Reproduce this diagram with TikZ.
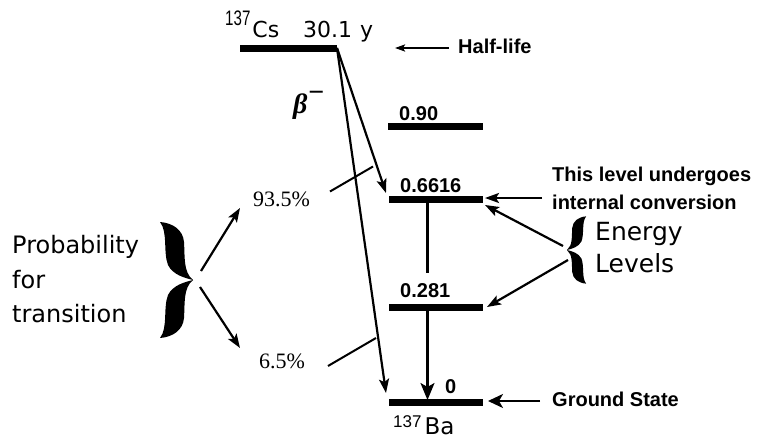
\documentclass[tikz,border=0pt]{standalone}
\usepackage{fontspec}
\usepackage{graphicx}
\setmainfont{Liberation Sans}
\newfontfamily\dvs{DejaVu Sans}
\newfontfamily\lserif{Liberation Serif}
\usetikzlibrary{arrows.meta}
\begin{document}
\begin{tikzpicture}[x=1pt,y=-1pt,
  levelbar/.style={line width=7pt},
  conn/.style={line width=2.2pt,-{Stealth[length=14pt,width=10pt,inset=3pt]}},
  smallconn/.style={line width=2pt,-{Stealth[length=10pt,width=7pt,inset=2pt]}},
  plain/.style={line width=2pt},
  lbl/.style={inner sep=0pt,anchor=base west,font=\bfseries\fontsize{20}{24}\selectfont},
  big/.style={inner sep=0pt,anchor=base west,font=\dvs\fontsize{24}{28}\selectfont},
  pct/.style={inner sep=0pt,anchor=base west,font=\lserif\fontsize{22}{24}\selectfont},
  nuc/.style={inner sep=0pt,anchor=base west,font=\dvs\fontsize{22}{24}\selectfont},
  bracefill/.style={fill=black}
]
\useasboundingbox[fill=white] (0,0) rectangle (764,439);

% ---------- level bars ----------
\coordinate (csL) at (240,48.5);  \coordinate (csR) at (337,48.5);
\coordinate (l90L) at (388,126.5); \coordinate (l90R) at (483,126.5);
\coordinate (l66L) at (389,199);  \coordinate (l66R) at (483,199);
\coordinate (l28L) at (389,307.5); \coordinate (l28R) at (483,307.5);
\coordinate (l0L) at (389,402.5); \coordinate (l0R) at (483,402.5);
\draw[levelbar] (csL) -- (csR);
\draw[levelbar] (l90L) -- (l90R);
\draw[levelbar] (l66L) -- (l66R);
\draw[levelbar] (l28L) -- (l28R);
\draw[levelbar] (l0L) -- (l0R);

% ---------- level labels ----------
\node[lbl] (t90) at (399,120) {0.90};
\node[lbl] (t66) at (400,192) {0.6616};
\node[lbl] (t28) at (400,297) {0.281};
\node[lbl] (t0) at (445,393) {0};
\node[nuc] (cs) at (225,37) {\raisebox{11pt}{\fontspec{Liberation Sans}\fontsize{21}{24}\selectfont\scalebox{0.72}[1]{137}}\hspace{2pt}Cs};
\node[nuc] (half) at (303,37) {30.1\hspace{8pt}y};
\node[inner sep=0pt,anchor=base west,font=\fontsize{17}{20}\selectfont] (ba) at (393,427)
  {137\hspace{3pt}\raisebox{-7pt}{\dvs\fontsize{23}{26}\selectfont Ba}};
\node[inner sep=0pt,anchor=base west,font=\lserif\bfseries\itshape\fontsize{28}{30}\selectfont] (beta) at (293,113)
  {β\raisebox{12pt}{−}};

% ---------- beta transitions ----------
\coordinate (cstop) at (337,48);
\coordinate (b1end) at (386,193);
\coordinate (b2end) at (386,393);
\draw[conn] (cstop) -- (b1end);
\draw[conn] (cstop) -- (b2end);

% ---------- gamma transition ----------
\coordinate (gtop) at (427.5,199);
\coordinate (gmid) at (427.5,273);
\coordinate (g28) at (427.5,305);
\coordinate (gend) at (427.5,400);
\fill (gtop) circle (2.5pt);
\draw[plain,line width=2.2pt] (gtop) -- (gmid);
\draw[conn,-{Stealth[length=17pt,width=14pt,inset=4pt]}] (g28) -- (gend);

% ---------- right annotations ----------
\coordinate (hlS) at (449,48); \coordinate (hlE) at (395,48);
\draw[smallconn] (hlS) -- (hlE);
\node[lbl] (hl) at (458,53) {Half-life};

\coordinate (icS) at (542,198); \coordinate (icE) at (485,198);
\draw[conn] (icS) -- (icE);
\node[lbl] (ic1) at (552,181.5) {This level undergoes};
\node[lbl] (ic2) at (552,209) {internal conversion};

\coordinate (gsS) at (540,401); \coordinate (gsE) at (488,401);
\draw[conn,-{Stealth[length=15pt,width=14pt,inset=4pt]}] (gsS) -- (gsE);
\node[lbl] (gs) at (552,406) {Ground State};

% energy brace
\begin{scope}[shift={(567,250)},xscale=-0.58,yscale=0.58]
  \fill[bracefill] (-33,-58) .. controls (-20,-57) and (-10,-50) .. (-9,-38)
     .. controls (-8,-24) and (-10,-8) .. (0,0)
     .. controls (-8,-2) and (-20,-5) .. (-25,-15)
     .. controls (-30,-28) and (-25,-48) .. (-33,-58) -- cycle;
  \begin{scope}[yscale=-1]
  \fill[bracefill] (-33,-58) .. controls (-20,-57) and (-10,-50) .. (-9,-38)
     .. controls (-8,-24) and (-10,-8) .. (0,0)
     .. controls (-8,-2) and (-20,-5) .. (-25,-15)
     .. controls (-30,-28) and (-25,-48) .. (-33,-58) -- cycle;
  \end{scope}
\end{scope}
\node[inner sep=0pt,anchor=base west,font=\dvs\fontsize{25}{28}\selectfont] (en1) at (595,240) {Energy};
\node[inner sep=0pt,anchor=base west,font=\dvs\fontsize{25}{28}\selectfont] (en2) at (595,272.7) {Levels};
\coordinate (ebU) at (563,246); \coordinate (ebL) at (568,260);
\coordinate (e66) at (485,205);
\coordinate (e28) at (487,307);
\draw[conn] (ebU) -- (e66);
\draw[conn] (ebL) -- (e28);

% ---------- left: probability ----------
\node[big] (p1) at (12,253) {Probability};
\node[big] (p2) at (12,288) {for};
\node[big] (p3) at (12,322) {transition};
\begin{scope}[shift={(193,280)}]
  \fill[bracefill] (-33,-58) .. controls (-20,-57) and (-10,-50) .. (-9,-38)
     .. controls (-8,-24) and (-10,-8) .. (0,0)
     .. controls (-8,-2) and (-20,-5) .. (-25,-15)
     .. controls (-30,-28) and (-25,-48) .. (-33,-58) -- cycle;
  \begin{scope}[yscale=-1]
  \fill[bracefill] (-33,-58) .. controls (-20,-57) and (-10,-50) .. (-9,-38)
     .. controls (-8,-24) and (-10,-8) .. (0,0)
     .. controls (-8,-2) and (-20,-5) .. (-25,-15)
     .. controls (-30,-28) and (-25,-48) .. (-33,-58) -- cycle;
  \end{scope}
\end{scope}
\coordinate (pbU) at (201,271); \coordinate (pbUE) at (240,208);
\coordinate (pbL) at (200,287); \coordinate (pbLE) at (240,348);
\draw[conn] (pbU) -- (pbUE);
\draw[conn] (pbL) -- (pbLE);
\node[pct] (p935) at (253,206.7) {93.5\%};
\node[pct] (p65) at (259,368) {6.5\%};
\coordinate (s1a) at (330,191.5); \coordinate (s1b) at (373,166.5);
\coordinate (s2a) at (328,366); \coordinate (s2b) at (376,338);
\draw[plain] (s1a) -- (s1b);
\draw[plain] (s2a) -- (s2b);
\end{tikzpicture}
\end{document}
